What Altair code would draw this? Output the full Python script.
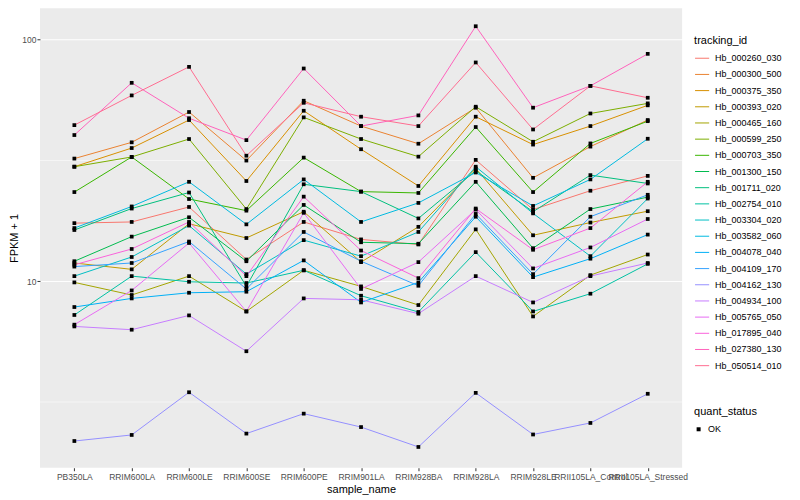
import altair as alt
import pandas as pd

samples = ["PB350LA", "RRIM600LA", "RRIM600LE", "RRIM600SE", "RRIM600PE", "RRIM901LA",
           "RRIM928BA", "RRIM928LA", "RRIM928LE", "RRII105LA_Control", "RRII105LA_Stressed"]

ids = ["Hb_000260_030", "Hb_000300_500", "Hb_000375_350", "Hb_000393_020", "Hb_000465_160",
       "Hb_000599_250", "Hb_000703_350", "Hb_001300_150", "Hb_001711_020", "Hb_002754_010",
       "Hb_003304_020", "Hb_003582_060", "Hb_004078_040", "Hb_004109_170", "Hb_004162_130",
       "Hb_004934_100", "Hb_005765_050", "Hb_017895_040", "Hb_027380_130", "Hb_050514_010"]

colors = ["#F8766D", "#EA8331", "#D89000", "#C09B00", "#A3A500", "#7CAE00", "#39B600",
          "#00BB4E", "#00BF7D", "#00C1A3", "#00BFC4", "#00BAE0", "#00B0F6", "#35A2FF",
          "#9590FF", "#C77CFF", "#E76BF3", "#FA62DB", "#FF62BC", "#FF6C91"]

hb_000260_030 = [17.4, 17.6, 20.3, 12.3, 17.6, 14.9, 14.2, 31.8, 19.8, 23.7, 27.3]
hb_000300_500 = [32.2, 37.6, 50.2, 31.6, 55.9, 43.9, 37.1, 52.3, 26.8, 36.1, 46.5]
hb_000375_350 = [29.8, 35.6, 46.5, 26.0, 50.8, 35.2, 24.8, 48.0, 36.8, 43.9, 53.5]
hb_000393_020 = [11.9, 11.2, 17.3, 15.1, 19.4, 12.0, 16.8, 29.3, 15.5, 17.5, 19.5]
hb_000465_160 = [9.89, 8.77, 10.5, 7.50, 11.1, 9.52, 7.97, 16.4, 7.15, 10.6, 12.9]
hb_000599_250 = [29.8, 32.7, 38.8, 19.9, 47.7, 38.8, 32.8, 52.8, 37.8, 49.5, 54.5]
hb_000703_350 = [23.4, 32.7, 21.9, 19.6, 32.5, 23.5, 23.2, 43.5, 23.4, 37.2, 46.0]
hb_001300_150 = [12.1, 15.3, 18.4, 12.1, 20.7, 14.5, 14.3, 25.8, 13.7, 19.9, 22.3]
hb_001711_020 = [16.3, 20.0, 23.3, 9.52, 25.2, 23.5, 18.2, 28.7, 19.4, 27.5, 25.4]
hb_002754_010 = [7.25, 10.5, 9.95, 9.83, 11.1, 8.71, 7.46, 13.2, 7.50, 8.88, 11.8]
hb_003304_020 = [10.5, 12.6, 17.0, 10.7, 14.8, 12.7, 16.0, 29.8, 19.1, 12.7, 22.0]
hb_003582_060 = [16.6, 20.4, 25.8, 17.2, 26.4, 17.6, 21.1, 28.2, 20.5, 26.4, 38.9]
hb_004078_040 = [7.82, 8.49, 8.96, 9.05, 12.2, 8.17, 9.89, 18.5, 10.4, 12.4, 15.6]
hb_004109_170 = [11.5, 11.9, 14.6, 9.29, 16.0, 12.1, 9.58, 19.0, 10.7, 18.5, 22.8]
hb_004162_130 = [2.18, 2.31, 3.47, 2.34, 2.83, 2.49, 2.06, 3.45, 2.32, 2.59, 3.42]
hb_004934_100 = [6.50, 6.30, 7.22, 5.13, 8.49, 8.38, 7.34, 10.5, 8.17, 10.5, 11.9]
hb_005765_050 = [6.61, 9.16, 14.4, 7.50, 19.2, 9.29, 12.0, 19.8, 11.3, 13.8, 18.1]
hb_017895_040 = [11.7, 13.6, 17.6, 10.5, 22.4, 13.4, 10.3, 20.0, 13.5, 16.6, 25.8]
hb_027380_130 = [40.3, 66.3, 47.3, 38.4, 76.0, 43.9, 48.6, 113.7, 52.3, 64.4, 87.4]
hb_050514_010 = [44.3, 58.8, 77.2, 33.1, 54.8, 48.0, 43.9, 80.5, 42.5, 64.4, 57.5]

series = [hb_000260_030, hb_000300_500, hb_000375_350, hb_000393_020, hb_000465_160,
          hb_000599_250, hb_000703_350, hb_001300_150, hb_001711_020, hb_002754_010,
          hb_003304_020, hb_003582_060, hb_004078_040, hb_004109_170, hb_004162_130,
          hb_004934_100, hb_005765_050, hb_017895_040, hb_027380_130, hb_050514_010]

minor_breaks = [3.1623, 31.623]
major_breaks = [10, 100]

rows = []
for tid, vals in zip(ids, series):
    for s, v in zip(samples, vals):
        rows.append({"tracking_id": tid, "sample_name": s, "fpkm": v, "quant_status": "OK"})
df = pd.DataFrame(rows)
minor_df = pd.DataFrame({"fpkm": minor_breaks})

yscale = alt.Scale(type="log", domain=[1.69, 134.9], nice=False, zero=False)
y_enc = alt.Y("fpkm:Q", scale=yscale,
              axis=alt.Axis(title="FPKM + 1", values=major_breaks, format="d",
                            titlePadding=2, labelPadding=1))
x_enc = alt.X("sample_name:N", sort=samples,
              scale=alt.Scale(type="point", padding=0.6),
              axis=alt.Axis(title="sample_name", labelAngle=0, labelPadding=2, titlePadding=2))

minor = alt.Chart(minor_df).mark_rule(color="white", strokeWidth=0.5).encode(y=y_enc)

lines = alt.Chart(df).mark_line(strokeWidth=1).encode(
    x=x_enc, y=y_enc,
    color=alt.Color("tracking_id:N", scale=alt.Scale(domain=ids, range=colors),
                    legend=alt.Legend(title="tracking_id", orient="none", legendX=655, legendY=27,
                                      symbolType="stroke", symbolSize=200, symbolStrokeWidth=1,
                                      labelFontSize=9, titleFontSize=11, rowPadding=3.2,
                                      labelOffset=5, titlePadding=4)),
)

points = alt.Chart(df).mark_point(filled=True, size=14, opacity=1, color="black").encode(
    x=x_enc, y=y_enc,
    shape=alt.Shape("quant_status:N", scale=alt.Scale(domain=["OK"], range=["square"]),
                    legend=alt.Legend(title="quant_status", orient="none", legendX=655, legendY=398,
                                      symbolSize=16, symbolFillColor="black", symbolStrokeColor="black",
                                      labelFontSize=9, titleFontSize=11, titlePadding=8,
                                      labelOffset=5)),
)

chart = alt.layer(minor, lines, points).properties(
    width=643, height=460,
    autosize=alt.AutoSizeParams(type="none"),
    padding={"left": 32, "top": 0, "right": 110, "bottom": 30},
).configure_view(fill="#EBEBEB", stroke=None).configure_axis(
    domain=False, tickColor="#333333", tickSize=3, tickWidth=1,
    gridColor="white", gridWidth=1, labelColor="#4D4D4D",
    labelFont="Liberation Sans", labelFontSize=8.5,
    titleFont="Liberation Sans", titleFontSize=11, titleFontWeight="normal", titleColor="black",
).configure_legend(
    labelFont="Liberation Sans", titleFont="Liberation Sans", titleFontWeight="normal",
    labelColor="black", titleColor="black",
)

chart.save("out.html", embed_options={"renderer": "svg", "actions": False})
